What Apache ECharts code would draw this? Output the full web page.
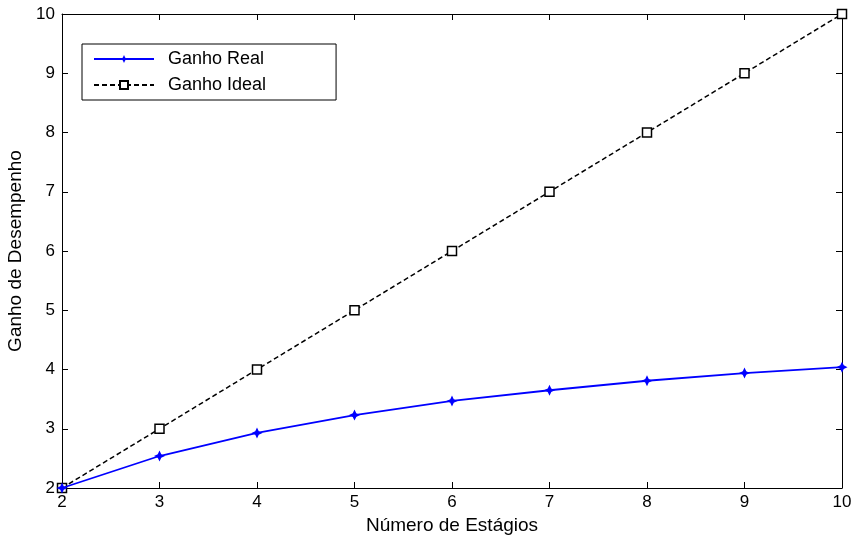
<!DOCTYPE html>
<html><head><meta charset="utf-8">
<script src="https://cdn.jsdelivr.net/npm/echarts@6/dist/echarts.min.js"></script>
<style>html,body{margin:0;padding:0;background:#fff}#c{width:853px;height:538px}</style>
</head><body><div id="c"></div>
<script>
var stages = [2, 3, 4, 5, 6, 7, 8, 9, 10];
var ganhoReal = [2.00, 2.54, 2.93, 3.23, 3.47, 3.65, 3.81, 3.94, 4.04];
var ganhoIdeal = [2, 3, 4, 5, 6, 7, 8, 9, 10];
var yTicks = [2, 3, 4, 5, 6, 7, 8, 9, 10];

function pairs(xs, ys){ return xs.map(function(x,i){ return [x, ys[i]]; }); }
var F = 'Liberation Sans, Arial, sans-serif';
var star = 'path://M0,-10 L3.2,-3.2 L10,0 L3.2,3.2 L0,10 L-3.2,3.2 L-10,0 L-3.2,-3.2 Z';
var chart = echarts.init(document.getElementById('c'));
var axLine = {show:true, lineStyle:{color:'#000', width:1}};
var tick = {show:true, inside:true, length:6, lineStyle:{color:'#000', width:1}};
chart.setOption({
  animation:false,
  backgroundColor:'#fff',
  grid:{left:62, right:11, top:14, bottom:50, show:false, containLabel:false, outerBoundsMode:'none'},
  legend:{
    left:82, top:44, orient:'vertical', itemWidth:60, itemHeight:10, itemGap:8,
    padding:[6,70,6,11], borderColor:'#000', borderWidth:1, backgroundColor:'#fff',
    textStyle:{fontFamily:F, fontSize:18, color:'#000', padding:[0,0,0,9]},
    data:['Ganho Real','Ganho Ideal']
  },
  xAxis:[
    {type:'value', min:2, max:10, interval:1, position:'bottom',
     name:'Número de Estágios', nameLocation:'middle', nameGap:27,
     nameTextStyle:{fontFamily:F, fontSize:19, color:'#000'},
     axisLine:axLine, axisTick:tick, splitLine:{show:false},
     axisLabel:{fontFamily:F, fontSize:17, color:'#000', margin:6}},
    {type:'value', min:2, max:10, interval:1, position:'top',
     axisLine:axLine, axisTick:tick, splitLine:{show:false}, axisLabel:{show:false}}
  ],
  yAxis:[
    {type:'value', min:2, max:10, interval:1, position:'left',
     name:'Ganho de Desempenho', nameLocation:'middle', nameGap:31,
     nameTextStyle:{fontFamily:F, fontSize:19, color:'#000'},
     axisLine:axLine, axisTick:tick, splitLine:{show:false},
     axisLabel:{fontFamily:F, fontSize:17, color:'#000', margin:7,
       formatter:function(v){ return yTicks.indexOf(v)>=0 ? String(v) : ''; }}},
    {type:'value', min:2, max:10, interval:1, position:'right',
     axisLine:axLine, axisTick:tick, splitLine:{show:false}, axisLabel:{show:false}}
  ],
  series:[
    {name:'Ganho Real', type:'line', data:pairs(stages, ganhoReal),
     symbol:star, symbolSize:11, showAllSymbol:true,
     lineStyle:{color:'#0000ff', width:1.8}, itemStyle:{color:'#0000ff', borderWidth:0}, z:3},
    {name:'Ganho Ideal', type:'line', data:pairs(stages, ganhoIdeal),
     symbol:'rect', symbolSize:9, showAllSymbol:true,
     lineStyle:{color:'#000', width:1.5, type:[5,3]},
     itemStyle:{color:'#fff', borderColor:'#000', borderWidth:1.5}, z:2}
  ]
});
</script></body></html>
